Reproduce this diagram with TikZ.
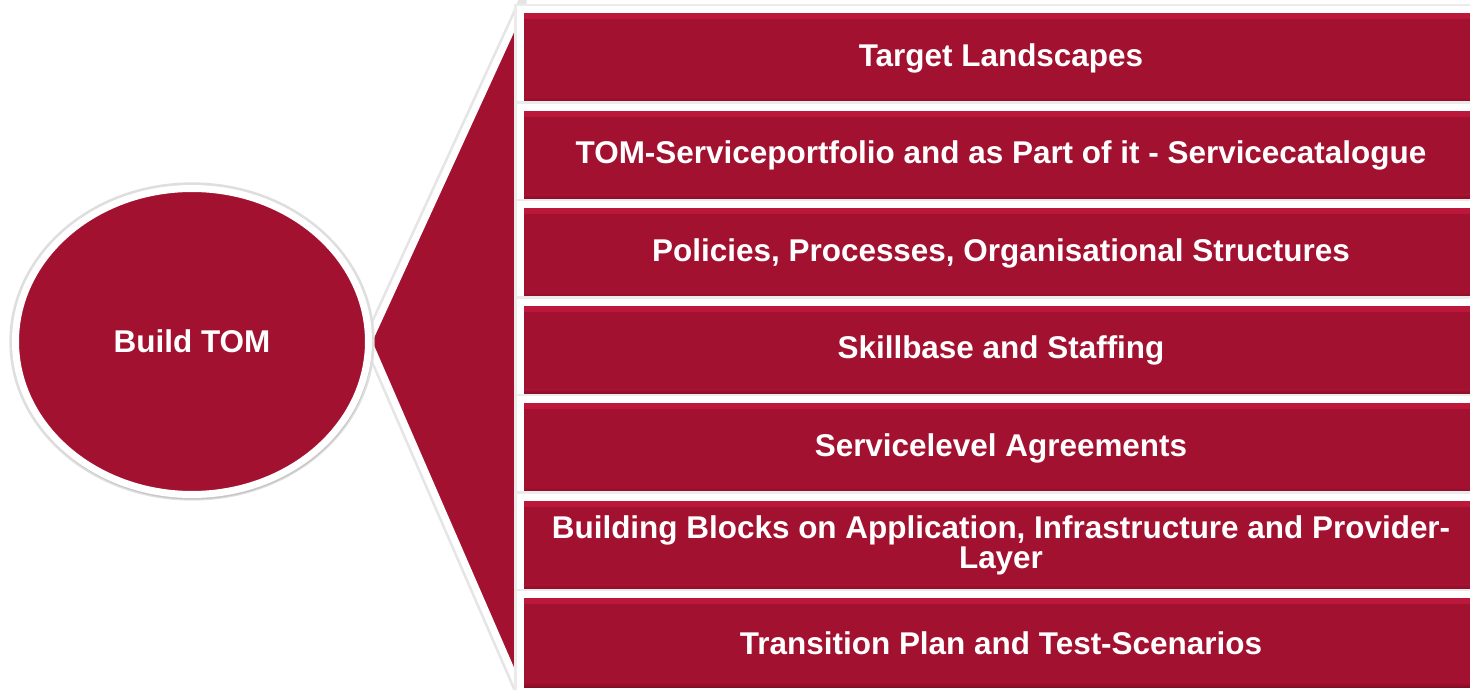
\documentclass[tikz,border=0pt]{standalone}
\usepackage{fontspec}
\setmainfont{Liberation Sans}
\usetikzlibrary{positioning,shapes.geometric,backgrounds,shadows}
\definecolor{tomred}{RGB}{163,17,48}
\definecolor{tomredhi}{RGB}{190,24,60}
\definecolor{tomreddk}{RGB}{105,8,28}
\tikzset{
  rim/.style={preaction={draw=black!#1, line width=7pt}},
  hub/.style={ellipse, draw=white, fill=tomred, line width=4pt, outer sep=0pt, minimum width=7.06cm, minimum height=6.12cm, inner sep=0pt, text=white, font=\bfseries\fontsize{17.9}{19}\selectfont, rim=13, drop shadow={opacity=0.25, shadow xshift=0.4pt, shadow yshift=-1.5pt, shadow scale=1.015}},
  itembox/.style={draw=white, fill=tomred, line width=4pt, outer sep=0pt, minimum width=19.22cm, minimum height=1.93cm, inner sep=2pt, align=center, text=white, font=\bfseries\fontsize{17.9}{17}\selectfont, rim=8,
    path picture={
      \shade[top color=tomredhi, bottom color=tomred] (path picture bounding box.north west) rectangle ([yshift=-5pt]path picture bounding box.north east);
      \shade[top color=tomred, bottom color=tomreddk] ([yshift=5pt]path picture bounding box.south west) rectangle (path picture bounding box.south east);
    }},
  fan/.style={fill=tomred, draw=white, line width=4pt, line join=round, rim=10}
}
\begin{document}
\begin{tikzpicture}[node distance=0.02cm]
\useasboundingbox (0,0) rectangle (29.4,13.8);
\node[hub] (tom) at (3.84,6.97) {Build TOM};
% right column
\node[itembox] (b1) at (20.02,12.64) {Target Landscapes};
\node[itembox, below=of b1] (b2) {TOM-Serviceportfolio and as Part of it - Servicecatalogue};
\node[itembox, below=of b2] (b3) {Policies, Processes, Organisational Structures};
\node[itembox, below=of b3] (b4) {Skillbase and Staffing};
\node[itembox, below=of b4] (b5) {Servicelevel Agreements};
\node[itembox, below=of b5] (b6) {Building Blocks on Application, Infrastructure and Provider-\\Layer};
\node[itembox, below=of b6] (b7) {Transition Plan and Test-Scenarios};
\begin{scope}[on background layer]
\draw[fan] (tom.east) -- (b1.north west) -- (b7.south west) -- cycle;
\end{scope}
\end{tikzpicture}
\end{document}
